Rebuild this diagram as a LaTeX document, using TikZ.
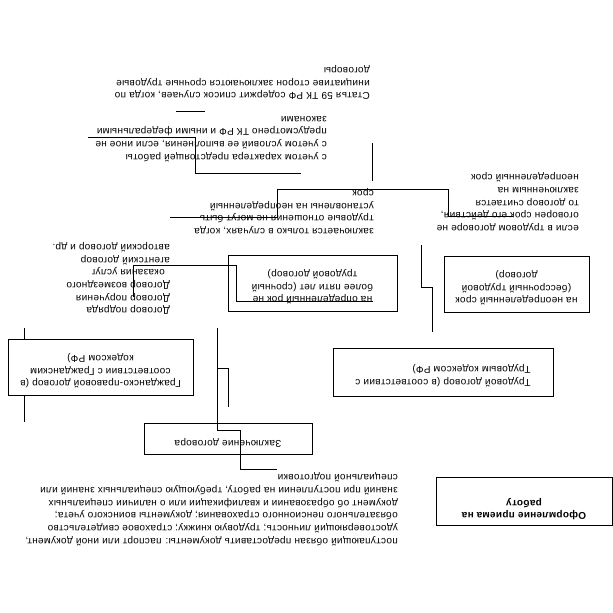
\documentclass[tikz,border=0pt]{standalone}
\usepackage{fontspec}
\setmainfont{Liberation Sans}[LetterSpace=3]

\begin{document}
\begin{tikzpicture}[x=1pt, y=-1pt,
    every node/.style={rotate=180, font=\fontsize{10}{12.7}\selectfont},
    box/.style={draw, line width=0.9pt, inner sep=0pt, align=center,
                execute at end node={\rule[-10pt]{0pt}{0pt}}},
    note/.style={inner sep=0pt, align=left, anchor=north west},
    wire/.style={line width=0.9pt},
  ]
  \useasboundingbox (0,0) rectangle (613,613);

  % boxes
  \node[box, minimum width=176pt, minimum height=48pt,
        execute at end node={\rule[-18pt]{0pt}{0pt}},
        font=\fontsize{10}{12.7}\selectfont\bfseries] (oform) at (524,501) {Оформление приема на\\работу};
  \node[box, minimum width=168pt, minimum height=31pt] (zakl) at (228,438.5) {Заключение договора};
  \node[box, minimum width=220pt, minimum height=48pt, align=left] (trud) at (443,372)
    {Трудовой договор (в соответствии с\\Трудовым кодексом РФ)};
  \node[box, minimum width=185pt, minimum height=56pt] (grazh) at (100.5,367)
    {Гражданско-правовой договор (в\\соответствии с Гражданским\\кодексом РФ)};
  \node[box, minimum width=169pt, minimum height=56pt] (sroch) at (312.5,283)
    {на определенный рок не\\более пяти лет (срочный\\трудовой договор)};
  \node[box, minimum width=145pt, minimum height=56pt] (bessr) at (516.5,284)
    {на неопределенный срок\\(бессрочный трудовой\\договор)};

  % free texts
  \node[note] (stat) at (370,100) {Статья 59 ТК РФ содержит список случаев, когда по\\инициативе сторон заключаются срочные трудовые\\договоры};
  \node[note] (uchet) at (327,162) {с учетом характера предстоящей работы\\с учетом условий ее выполнения, если иное не\\предусмотрено ТК РФ и иными федеральными\\законами};
  \node[note] (usl) at (374,234) {заключается только в случаях, когда\\трудовые отношения не могут быть\\установлены на неопределенный\\срок};
  \node[note] (esli) at (579,231) {если в трудовом договоре не\\оговорен срок его действия,\\то договор считается\\заключенным на\\неопределенный срок};
  \node[note] (vidy) at (170,315) {Договор подряда\\Договор поручения\\Договор возмездного\\\hspace*{5pt}оказания услуг\\агентский договор\\авторский договор и др.};
  \node[note] (post) at (398,546) {поступающий обязан предоставить документы: паспорт или иной документ,\\удостоверяющий личность; трудовую книжку; страховое свидетельство\\обязательного пенсионного страхования; документы воинского учета;\\документ об образовании и квалификации или о наличии специальных\\знаний при поступлении на работу, требующую специальных знаний или\\специальной подготовки};

  % line ends
  \coordinate (a1) at (176,111);   \coordinate (a2) at (205,111);
  \coordinate (b1) at (88,137);    \coordinate (b2) at (301,173);
  \coordinate (c1) at (372,143);   \coordinate (c2) at (372,181);
  \coordinate (d1) at (170,217);   \coordinate (d2) at (513,216);
  \coordinate (e1) at (133,297);   \coordinate (e2) at (373,301);
  \coordinate (f1) at (421,245);   \coordinate (f2) at (432,332);
  \coordinate (g1) at (217,328);   \coordinate (g2) at (277,469);
  \coordinate (h1) at (217,368);   \coordinate (h2) at (228,407);
  \coordinate (k1) at (24,328);    \coordinate (k2) at (24,422);

  \draw[wire] (a1) -- (a2);
  \draw[wire] (b1) -- (195,137) -- (195,173) -- (b2);
  \draw[wire] (c1) -- (c2);
  \draw[wire] (d1) -- (277,217) -- (277,189) -- (448,189) -- (448,216) -- (d2);
  \draw[wire] (e1) -- (133,265) -- (236,265) -- (236,301) -- (e2);
  \draw[wire] (f1) -- (421,287) -- (432,287) -- (f2);
  \draw[wire] (g1) -- (217,430) -- (240,430) -- (240,469) -- (g2);
  \draw[wire] (h1) -- (228,368) -- (h2);
  \draw[wire] (k1) -- (k1 |- grazh.south);
  \draw[wire] (k2) -- (k2 |- grazh.north);
\end{tikzpicture}
\end{document}
